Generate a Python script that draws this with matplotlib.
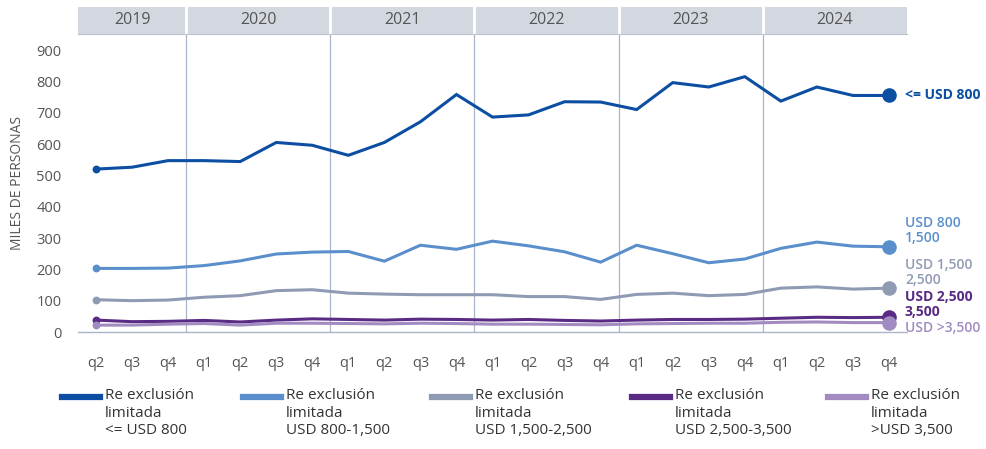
import matplotlib

matplotlib.use("Agg")
import matplotlib.pyplot as plt
from matplotlib.lines import Line2D

plt.rcParams["font.family"] = ["Open Sans", "DejaVu Sans"]

years = ["2019", "2020", "2021", "2022", "2023", "2024"]
quarters = ["q2", "q3", "q4"] + ["q1", "q2", "q3", "q4"] * 5

le_800 = [520, 526, 547, 547, 544, 605, 596, 564, 605, 671, 758, 686, 693, 735, 734,
          710, 796, 782, 815, 737, 782, 755, 755]
usd_800_1500 = [203, 203, 204, 212, 227, 249, 255, 257, 226, 277, 264, 290, 275, 256, 223,
                277, 250, 221, 233, 267, 287, 274, 272]
usd_1500_2500 = [103, 100, 102, 111, 116, 132, 135, 124, 121, 119, 119, 119, 113, 113, 104,
                 120, 124, 116, 120, 140, 144, 137, 140]
usd_2500_3500 = [38, 33, 34, 37, 32, 38, 42, 40, 38, 41, 40, 38, 40, 37, 35,
                 38, 40, 40, 41, 44, 47, 46, 47]
usd_gt_3500 = [22, 22, 25, 27, 22, 28, 28, 27, 26, 28, 27, 25, 25, 24, 23,
               26, 27, 28, 28, 31, 32, 30, 30]

series = [
    (le_800, "#0b4ea2", "<= USD 800", "Re exclusión\nlimitada\n<= USD 800", "bold", 0),
    (usd_800_1500, "#5b8fcc", "USD 800\n1,500", "Re exclusión\nlimitada\nUSD 800-1,500", "semibold", 16),
    (usd_1500_2500, "#8f9bb3", "USD 1,500\n2,500", "Re exclusión\nlimitada\nUSD 1,500-2,500", "semibold", 16),
    (usd_2500_3500, "#5a2b84", "USD 2,500\n3,500", "Re exclusión\nlimitada\nUSD 2,500-3,500", "bold", 13),
    (usd_gt_3500, "#a28bc1", "USD >3,500", "Re exclusión\nlimitada\n>USD 3,500", "semibold", -5),
]

W, H = 987, 449
fig = plt.figure(figsize=(W / 100, H / 100), dpi=100)
ax = fig.add_axes([78 / W, 1 - 332 / H, (907 - 78) / W, (332 - 35) / H])
hdr = fig.add_axes([78 / W, 1 - 34 / H, (907 - 78) / W, 27 / H], sharex=ax)

x = list(range(len(quarters)))
grid_col = "#aab5c8"
text_col = "#555555"

# year boundaries
bounds = [i - 0.5 for i, q in enumerate(quarters) if q == "q1"]
for b in bounds:
    ax.axvline(b, color=grid_col, lw=0.9, zorder=1)

for vals, color, tag, _, weight, dy in series:
    ax.plot(x, vals, color=color, lw=2.2, zorder=3, solid_joinstyle="miter")
    ax.scatter([x[0]], [vals[0]], s=32, color=color, zorder=4, linewidths=0)
    ax.scatter([x[-1]], [vals[-1]], s=110, color=color, zorder=4, linewidths=0)
    ax.annotate(tag, xy=(x[-1], vals[-1]), xytext=(16, dy), textcoords="offset pixels",
                ha="left", va="center", color=color, fontsize=10, fontweight=weight,
                linespacing=1.1, annotation_clip=False)

ax.set_xlim(-0.5, len(x) - 0.5)
ax.set_ylim(0, 948)
ax.set_yticks(range(0, 901, 100))
ax.set_xticks(x)
ax.set_xticklabels(quarters)
ax.tick_params(axis="both", length=0, labelsize=10.5, colors=text_col)
ax.tick_params(axis="x", pad=17)
ax.tick_params(axis="y", pad=12)
for side in ["top", "right", "left"]:
    ax.spines[side].set_visible(False)
ax.spines["bottom"].set_color(grid_col)
ax.spines["bottom"].set_linewidth(1.0)
ax.set_ylabel("MILES DE PERSONAS", fontsize=10, color=text_col, labelpad=8)

# header band with years
hdr.set_facecolor("#d3d8e0")
hdr.set_ylim(0, 1)
hdr.set_yticks([])
hdr.tick_params(axis="x", length=0, labelbottom=False)
for side in ["top", "right", "left"]:
    hdr.spines[side].set_visible(False)
hdr.spines["bottom"].set_color("#b9c3d3")
for b in bounds:
    hdr.axvline(b, color="white", lw=2)
edges = [-0.5] + bounds + [len(x) - 0.5]
for yr, a, b in zip(years, edges[:-1], edges[1:]):
    hdr.text((a + b) / 2, 0.5, yr, ha="center", va="center", fontsize=11.5, color=text_col)

# legend
leg_x = [62, 243, 432, 632, 828]
for lx, (_, color, _, label, _, _) in zip(leg_x, series):
    fig.add_artist(Line2D([lx / W, (lx + 38) / W], [1 - 397 / H] * 2, color=color, lw=4.5,
                          transform=fig.transFigure))
    fig.text((lx + 43) / W, 1 - 388 / H, label, ha="left", va="top", fontsize=11,
             color="#333333", linespacing=1.25)

fig.savefig("out.png", dpi=100)
